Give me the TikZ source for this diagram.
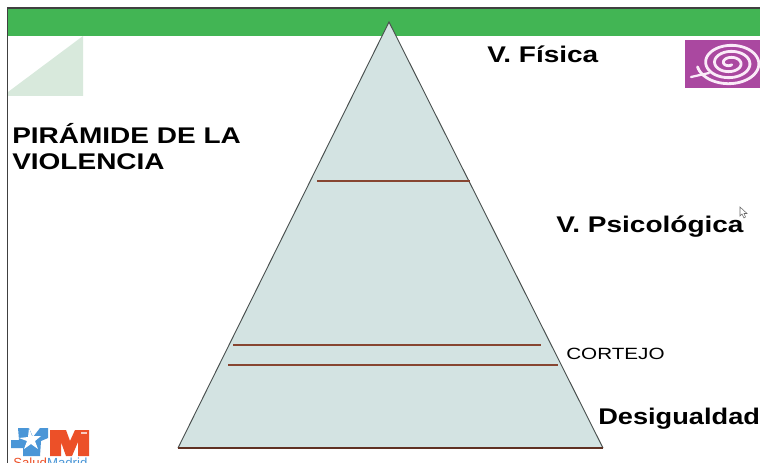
\documentclass[tikz,border=0pt]{standalone}
\usepackage{fontspec}
\setmainfont{Liberation Sans}
\newfontfamily\widefont[FakeStretch=1.235]{Liberation Sans}
\newfontfamily\widerfont[FakeStretch=1.27]{Liberation Sans}
\newfontfamily\desfont[FakeStretch=1.2]{Liberation Sans}
\definecolor{barg}{RGB}{66,181,84}
\definecolor{pyr}{RGB}{211,227,226}
\definecolor{tri}{RGB}{216,233,220}
\definecolor{lin}{RGB}{135,70,50}
\definecolor{purp}{RGB}{170,72,160}
\definecolor{spir}{RGB}{250,235,248}
\definecolor{blu}{RGB}{74,150,215}
\definecolor{ora}{RGB}{236,80,40}
\tikzset{
 lbl/.style={font=\widefont\bfseries\fontsize{17}{19.5}\selectfont,text=black,inner sep=0pt,anchor=base west},
 level/.style={draw=lin,line width=0.8pt}
}
\begin{document}
\begin{tikzpicture}[x=0.75pt,y=-0.75pt]
\useasboundingbox (0,0) rectangle (760,463);
\fill[white] (0,0) rectangle (760,463);
% bar and frame
\fill[barg] (7,8) rectangle (760,36);
\draw[black!75,line width=1.1pt] (7.3,463) -- (7.3,8) -- (760,8);
% corner triangle
\fill[tri] (8,92) -- (83,36) -- (83,96) -- (8,96) -- cycle;
% pyramid
\coordinate (apex) at (389,22);
\coordinate (bl) at (178,448);
\coordinate (br) at (603,448);
\fill[pyr] (apex) -- (br) -- (bl) -- cycle;
\draw[black!65!pyr,line width=0.7pt] (bl) -- (apex) -- (br);
\draw[lin!70!black,line width=0.8pt] (bl) -- (br);
\coordinate (a1) at (317,181); \coordinate (a2) at (470,181);
\coordinate (b1) at (233,345); \coordinate (b2) at (541,345);
\coordinate (c1) at (228,365); \coordinate (c2) at (558,365);
\draw[level] (a1) -- (a2);
\draw[level] (b1) -- (b2);
\draw[level] (c1) -- (c2);
% labels
\node[lbl] (fis) at (487,63) {V. Física};
\node[lbl] (psi) at (556,233) {V. Psicológica};
\node[lbl,font=\desfont\bfseries\fontsize{17}{19.5}\selectfont] (des) at (598,424) {Desigualdad};
\node[inner sep=0pt,anchor=base west,font=\widerfont\fontsize{12.2}{14}\selectfont] (cor) at (566,359) {CORTEJO};
\node[lbl,align=left,anchor=north west] (tit) at (12,123) {PIRÁMIDE DE LA\\VIOLENCIA};
% purple logo
\begin{scope}
\clip (685,40) rectangle (760,88);
\fill[purp] (685,40) rectangle (760,88);
\draw[spir,line width=1.7pt,line cap=round] (691,77) -- (709,73);
\draw[spir,line width=2.1pt,line cap=round] plot[domain=60:1250,samples=220] ({730+(2+\x/1250*31)*cos(\x)},{63+(1+\x/1250*21)*sin(\x)});
\end{scope}
% Madrid logo
\fill[blu] (11,440) -- (19,440) -- (18,428) -- (29,428) -- (33,437) -- (40,428) -- (48,428) -- (48,438) -- (41,441) -- (40,456) -- (23,456) -- (23,448) -- (11,448) -- cycle;
\fill[white] (29,428) -- (32,436) -- (41,436) -- (35,441) -- (38,449) -- (31,444) -- (24,449) -- (27,441) -- (19,438) -- (28,437) -- cycle;
\fill[ora] (50,456) -- (50,430) -- (66,430) -- (70,441) -- (75,430) -- (89,430) -- (89,456) -- (78,456) -- (78,442) -- (72,456) -- (66,456) -- (61,442) -- (61,456) -- cycle;
\fill[white!70!ora] (81,432) rectangle (87,434);
\begin{scope}
\clip (0,0) rectangle (760,463);
\node[inner sep=0pt,anchor=base west,font=\fontsize{9.9}{11}\selectfont] (sal) at (13,467) {\textcolor{ora}{Salud}\textcolor{blu}{Madrid}};
\end{scope}
% cursor
\draw[black!60,fill=white,line width=0.4pt] (740,207) -- (740,216) -- (742,214) -- (744,218) -- (745.5,217) -- (744,213.5) -- (747,213.5) -- cycle;
\end{tikzpicture}
\end{document}
